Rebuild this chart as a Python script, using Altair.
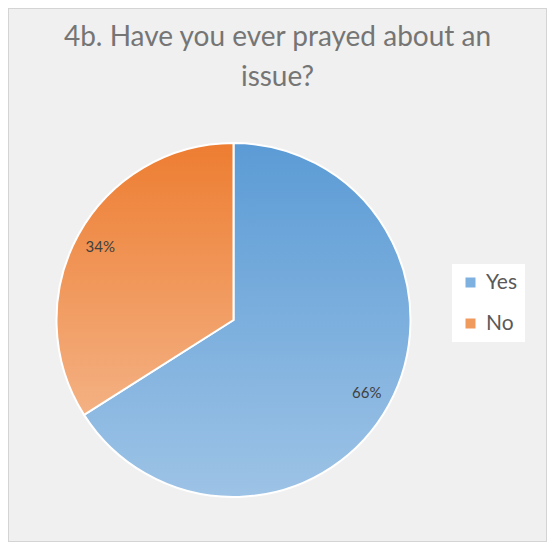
import altair as alt
import pandas as pd

answers = ["Yes", "No"]
percent = [66, 34]
labels = ["66%", "34%"]
order_idx = [0, 1]

title_lines = ["4b. Have you ever prayed about an", "issue?"]

df = pd.DataFrame({"answer": answers, "pct": percent, "label": labels, "idx": order_idx})

grad_yes = {
    "gradient": "linear", "x1": 0, "x2": 0, "y1": 0, "y2": 1,
    "stops": [{"offset": 0, "color": "#5b9bd5"}, {"offset": 1, "color": "#9dc3e6"}],
}
grad_no = {
    "gradient": "linear", "x1": 0, "x2": 0, "y1": 0, "y2": 1,
    "stops": [{"offset": 0, "color": "#ed7d31"}, {"offset": 1, "color": "#f4b183"}],
}

CX, CY, R = 225.5, 312, 177

base = alt.Chart(df).encode(
    theta=alt.Theta("pct:Q", stack=True),
    order=alt.Order("idx:Q"),
    x=alt.value(CX),
    y=alt.value(CY),
)

legend_layer = base.mark_arc(radius=R, opacity=0).encode(
    color=alt.Color(
        "answer:N",
        sort=answers,
        scale=alt.Scale(domain=answers, range=["#7eb0e0", "#f09a5e"]),
        legend=alt.Legend(
            title=None,
            orient="none",
            legendX=444,
            legendY=256,
            padding=8,
            fillColor="#ffffff",
            symbolType="square",
            symbolSize=100,
            symbolOpacity=1,
            symbolStrokeWidth=0,
            labelFont="Lato",
            labelFontSize=21,
            labelColor="#595959",
            labelOffset=5,
            rowPadding=19,
        ),
    )
)

pie_layer = base.mark_arc(radius=R, stroke="#ffffff", strokeWidth=2).encode(
    fill=alt.condition(alt.datum.answer == "Yes", alt.value(grad_yes), alt.value(grad_no))
)

text_layer = base.mark_text(radius=152, font="Lato", fontSize=15, color="#404040").encode(
    text="label:N"
)

chart = (
    alt.layer(legend_layer, pie_layer, text_layer)
    .properties(
        width=539,
        height=534,
        autosize=alt.AutoSizeParams(type="none"),
        padding=0,
        background="#f0f0f0",
        title=alt.TitleParams(
            text=title_lines,
            anchor="middle",
            font="Lato",
            fontSize=28,
            fontWeight="normal",
            color="#757575",
            lineHeight=40,
            offset=0,
            dy=84,
        ),
    )
    .configure_view(stroke="#d4d4d4", strokeWidth=2)
)

chart.save("out.html", embed_options={"renderer": "svg", "actions": False})
